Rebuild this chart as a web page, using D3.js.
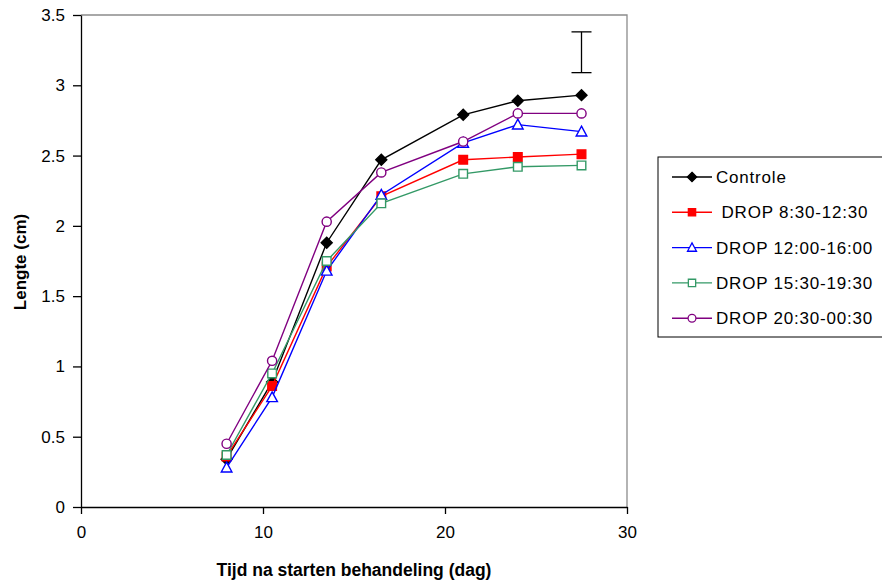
<!DOCTYPE html>
<html>
<head>
<meta charset="utf-8">
<script src="https://cdn.jsdelivr.net/npm/d3@7"></script>
<style>
  body { margin: 0; background: #fff; }
  text { font-family: "Liberation Sans", Arial, sans-serif; }
</style>
</head>
<body>
<svg id="chart" width="882" height="583"></svg>
<script>
// days on the x axis
const days = [8, 10.5, 13.5, 16.5, 21, 24, 27.5];

const controle = [0.34, 0.89, 1.88, 2.47, 2.79, 2.89, 2.93];
const drop0830 = [0.36, 0.86, 1.71, 2.21, 2.47, 2.49, 2.51];
const drop1200 = [0.28, 0.78, 1.68, 2.22, 2.59, 2.72, 2.67];
const drop1530 = [0.37, 0.95, 1.75, 2.16, 2.37, 2.42, 2.43];
const drop2030 = [0.45, 1.04, 2.03, 2.38, 2.60, 2.80, 2.80];

const seriesNames = ['Controle', ' DROP 8:30-12:30', 'DROP 12:00-16:00', 'DROP 15:30-19:30', 'DROP 20:30-00:30'];

// error bar (LSD) drawn at the last day
const errDay = 27.5;
const errRange = [3.09, 3.38];

const xTicks = [0, 10, 20, 30];
const yTicks = [0, 0.5, 1, 1.5, 2, 2.5, 3, 3.5];

const series = [
  { name: seriesNames[0], values: controle, color: '#000000', shape: 'diamond', fill: true },
  { name: seriesNames[1], values: drop0830, color: '#ff0000', shape: 'square', fill: true },
  { name: seriesNames[2], values: drop1200, color: '#0000ff', shape: 'triangle', fill: false },
  { name: seriesNames[3], values: drop1530, color: '#339966', shape: 'square', fill: false },
  { name: seriesNames[4], values: drop2030, color: '#800080', shape: 'circle', fill: false }
];

const svg = d3.select('#chart');
const pLeft = 81, pRight = 627, pTop = 15, pBottom = 507;

const x = d3.scaleLinear().domain([0, 30]).range([pLeft, pRight]);
const y = d3.scaleLinear().domain([0, 3.5]).range([pBottom, pTop]);

// plot area frame (top and right grey)
svg.append('path')
  .attr('d', `M${pLeft},${pTop}H${pRight}V${pBottom}`)
  .attr('fill', 'none')
  .attr('stroke', '#8c8c8c')
  .attr('stroke-width', 1.3);

const xAxis = svg.append('g')
  .attr('transform', 'translate(0,' + pBottom + ')')
  .call(d3.axisBottom(x).tickValues(xTicks).tickSize(7).tickSizeOuter(0).tickFormat(d3.format('d')));
xAxis.selectAll('text').attr('font-size', 17).attr('y', 16).attr('dy', '0.9em').attr('fill', '#000');

const yAxis = svg.append('g')
  .attr('transform', 'translate(' + pLeft + ',0)')
  .call(d3.axisLeft(y).tickValues(yTicks).tickSize(8).tickSizeOuter(0).tickFormat(d => d));
yAxis.selectAll('text').attr('font-size', 17).attr('x', -16).attr('fill', '#000');

svg.selectAll('.domain, .tick line').attr('stroke', '#000').attr('stroke-width', 1.3);

svg.append('text')
  .attr('x', 354)
  .attr('y', 576)
  .attr('text-anchor', 'middle')
  .attr('font-size', 17.5)
  .attr('font-weight', 'bold')
  .text('Tijd na starten behandeling (dag)');

svg.append('text')
  .attr('transform', 'translate(26,262) rotate(-90)')
  .attr('text-anchor', 'middle')
  .attr('font-size', 17)
  .attr('font-weight', 'bold')
  .text('Lengte (cm)');

// error bar
const capW = 10;
const eb = svg.append('g').attr('stroke', '#000').attr('stroke-width', 1.3);
eb.append('line').attr('x1', x(errDay)).attr('x2', x(errDay)).attr('y1', y(errRange[0])).attr('y2', y(errRange[1]));
errRange.forEach(v => {
  eb.append('line')
    .attr('x1', x(errDay) - capW).attr('x2', x(errDay) + capW)
    .attr('y1', y(v)).attr('y2', y(v));
});

function symbolPath(shape) {
  if (shape === 'diamond') return 'M0,-5.5L5.5,0L0,5.5L-5.5,0Z';
  if (shape === 'square') return 'M-4.3,-4.3H4.3V4.3H-4.3Z';
  if (shape === 'triangle') return 'M0,-5.5L5.3,4.3H-5.3Z';
  return d3.arc()({ innerRadius: 0, outerRadius: 4.6, startAngle: 0, endAngle: 2 * Math.PI });
}

const line = d3.line().x((d, i) => x(days[i])).y(d => y(d));

series.forEach(s => {
  const g = svg.append('g');
  g.append('path')
    .attr('d', line(s.values))
    .attr('fill', 'none')
    .attr('stroke', s.color)
    .attr('stroke-width', 1.4);
  g.selectAll('path.pt')
    .data(s.values)
    .enter()
    .append('path')
    .attr('class', 'pt')
    .attr('transform', (d, i) => 'translate(' + x(days[i]) + ',' + y(d) + ')')
    .attr('d', symbolPath(s.shape))
    .attr('fill', s.fill ? s.color : '#fff')
    .attr('stroke', s.color)
    .attr('stroke-width', 1.4);
});

// legend
const lg = svg.append('g');
lg.append('rect')
  .attr('x', 658).attr('y', 157)
  .attr('width', 240).attr('height', 180)
  .attr('fill', '#fff')
  .attr('stroke', '#000')
  .attr('stroke-width', 1);

series.forEach((s, i) => {
  const ly = 177 + i * 35.3;
  lg.append('line')
    .attr('x1', 672).attr('x2', 712)
    .attr('y1', ly).attr('y2', ly)
    .attr('stroke', s.color).attr('stroke-width', 1.4);
  lg.append('path')
    .attr('transform', 'translate(692,' + ly + ') scale(0.85)')
    .attr('d', symbolPath(s.shape))
    .attr('fill', s.fill ? s.color : '#fff')
    .attr('stroke', s.color)
    .attr('stroke-width', 1.5);
  lg.append('text')
    .attr('x', 716).attr('y', ly)
    .attr('dy', '0.36em')
    .attr('font-size', 17)
    .attr('letter-spacing', 0.8)
    .attr('xml:space', 'preserve')
    .style('white-space', 'pre')
    .text(s.name);
});
</script>
</body>
</html>
